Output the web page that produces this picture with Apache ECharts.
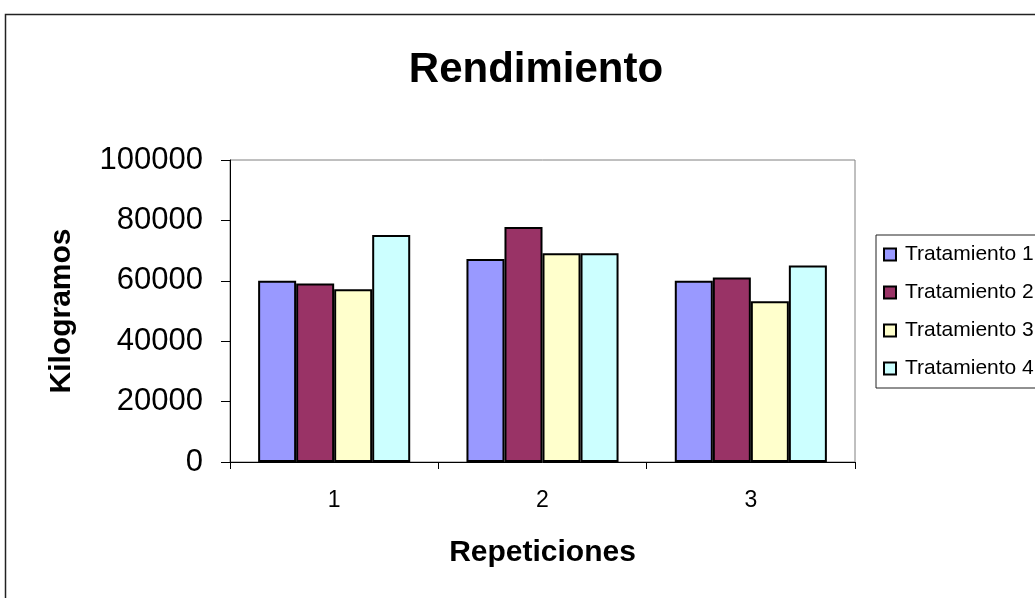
<!DOCTYPE html>
<html>
<head>
<meta charset="utf-8">
<script src="https://cdn.jsdelivr.net/npm/echarts@6/dist/echarts.min.js"></script>
<style>
  html, body { margin: 0; padding: 0; background: #fff; }
  #chart { width: 1035px; height: 598px; }
</style>
</head>
<body>
<div id="chart"></div>
<script>
// Rendimiento por repetición y tratamiento (kg)
const categories = ['1', '2', '3'];
const seriesNames = ['Tratamiento 1', 'Tratamiento 2', 'Tratamiento 3', 'Tratamiento 4'];
const tratamiento1 = [60000, 67200, 60000];
const tratamiento2 = [59100, 77800, 61100];
const tratamiento3 = [57200, 69100, 53200];
const tratamiento4 = [75200, 69100, 65100];
const yTicks = [0, 20000, 40000, 60000, 80000, 100000];

const values = [tratamiento1, tratamiento2, tratamiento3, tratamiento4];
const colors = ['#9999FF', '#993366', '#FFFFCC', '#CCFFFF'];
const font = '"Liberation Sans", Arial, sans-serif';

const chart = echarts.init(document.getElementById('chart'), null, { renderer: 'canvas' });

chart.setOption({
  animation: false,
  backgroundColor: '#ffffff',
  title: {
    text: 'Rendimiento',
    left: 531,
    textAlign: 'center',
    top: 44,
    textStyle: { fontFamily: font, fontSize: 42, fontWeight: 'bold', color: '#000' }
  },
  graphic: [{
    type: 'rect',
    shape: { x: 5.5, y: 14.5, width: 1200, height: 800 },
    style: { fill: 'none', stroke: '#222', lineWidth: 1.5 },
    silent: true,
    z: -1
  }],
  legend: {
    orient: 'vertical',
    left: 876,
    top: 235,
    data: seriesNames,
    icon: 'rect',
    itemWidth: 12,
    itemHeight: 12,
    itemGap: 17,
    padding: [9, 60, 9, 7],
    borderColor: '#222',
    borderWidth: 1,
    backgroundColor: '#fff',
    textStyle: { fontFamily: font, fontSize: 21, color: '#000', padding: [0, 0, 0, 4] }
  },
  grid: {
    left: 230,
    top: 160,
    right: 180,
    bottom: 136,
    show: true,
    borderColor: '#808080',
    borderWidth: 1,
    backgroundColor: '#fff'
  },
  xAxis: {
    type: 'category',
    data: categories,
    name: 'Repeticiones',
    nameLocation: 'middle',
    nameGap: 76,
    nameTextStyle: { fontFamily: font, fontSize: 30, fontWeight: 'bold', color: '#000', verticalAlign: 'top' },
    axisLine: { lineStyle: { color: '#000', width: 1 } },
    axisTick: { show: true, inside: false, length: 7, lineStyle: { color: '#000' } },
    axisLabel: { fontFamily: font, fontSize: 23, color: '#000', margin: 27 }
  },
  yAxis: {
    type: 'value',
    min: yTicks[0],
    max: yTicks[yTicks.length - 1],
    interval: yTicks[1] - yTicks[0],
    name: 'Kilogramos',
    nameLocation: 'middle',
    nameGap: 153,
    nameRotate: 90,
    nameTextStyle: { fontFamily: font, fontSize: 30, fontWeight: 'bold', color: '#000' },
    axisLine: { show: true, lineStyle: { color: '#000', width: 1 } },
    axisTick: { show: true, inside: false, length: 9, lineStyle: { color: '#000' } },
    splitLine: { show: false },
    axisLabel: {
      fontFamily: font, fontSize: 31, color: '#000', margin: 27,
      formatter: (v) => String(v)
    }
  },
  series: seriesNames.map((name, i) => ({
    name: name,
    type: 'bar',
    data: values[i],
    barGap: '0%',
    barCategoryGap: '27%',
    itemStyle: { color: colors[i], borderColor: '#000', borderWidth: 2 }
  }))
});
</script>
</body>
</html>
